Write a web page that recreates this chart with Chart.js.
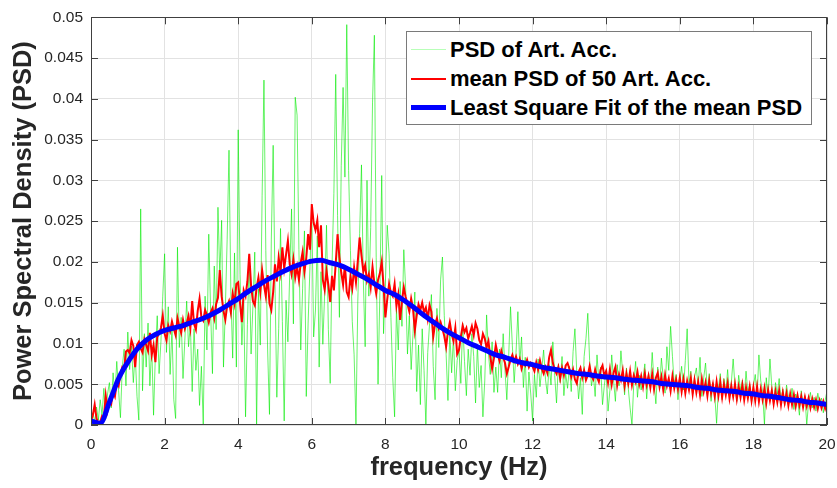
<!DOCTYPE html>
<html>
<head>
<meta charset="utf-8">
<script src="https://cdn.jsdelivr.net/npm/chart.js@4"></script>
<style>
  body { margin: 0; background: #fff; }
  #wrap { position: relative; width: 837px; height: 488px; }
  #legend {
    position: absolute; left: 406px; top: 31px; width: 406px; height: 94px;
    box-sizing: border-box; border: 1px solid #7a7a7a; background: #fff;
    padding-top: 3px;
    font: bold 22px "Liberation Sans", Arial, sans-serif; color: #000;
  }
  .row { display: flex; align-items: center; height: 29px; }
  .swatch { width: 35px; margin-left: 4px; margin-right: 4px; }
</style>
</head>
<body>
<div id="wrap">
  <canvas id="psdChart" width="837" height="488"></canvas>
  <div id="legend">
    <div class="row"><span class="swatch" style="border-top:1px solid #b8ffb8"></span>PSD of Art. Acc.</div>
    <div class="row"><span class="swatch" style="border-top:2px solid #ff0000"></span>mean PSD of 50 Art. Acc.</div>
    <div class="row"><span class="swatch" style="border-top:5px solid #0000ff"></span>Least Square Fit of the mean PSD</div>
  </div>
</div>
<script>
// sample spacing of the PSD estimates (Hz)
const step = 0.05;

// PSD of one artificial accelerogram, 0 .. 20 Hz
const psdSingle = [
  0.0008, 0.0015, 0.0004, 0.0022, 0.0006, 0.0031, 0.0012, 0.0045, 0.0008, 0.0038, 0.0052, 0.0021, 0.0064, 0.0035, 0.0078, 0.0042, 0.0009, 0.0071, 0.0093, 0.0048,
  0.0114, 0.0068, 0.0097, 0.0052, 0.0088, 0.0035, 0.0006, 0.0265, 0.0042, 0.0112, 0.0071, 0.0125, 0.0048, 0.0098, 0.0012, 0.0087, 0.0134, 0.0063, 0.0102, 0.0158,
  0.0210, 0.0089, 0.0145, 0.0062, 0.0118, 0.0031, 0.0008, 0.0218, 0.0095, 0.0132, 0.0057, 0.0104, 0.0152, 0.0096, 0.0124, 0.0041, 0.0118, 0.0067, 0.0093, 0.0024,
  0.0072, 0.0001, 0.0158, 0.0092, 0.0234, 0.0141, 0.0063, 0.0195, 0.0117, 0.0267, 0.0183, 0.0251, 0.0071, 0.0142, 0.0228, 0.0337, 0.0164, 0.0082, 0.0211, 0.0071,
  0.0362, 0.0185, 0.0098, 0.0154, 0.0010, 0.0123, 0.0205, 0.0087, 0.0146, 0.0212, 0.0000, 0.0167, 0.0098, 0.0281, 0.0423, 0.0214, 0.0092, 0.0013, 0.0228, 0.0343,
  0.0172, 0.0034, 0.0118, 0.0241, 0.0127, 0.0005, 0.0153, 0.0102, 0.0186, 0.0265, 0.0124, 0.0402, 0.0380, 0.0215, 0.0092, 0.0167, 0.0238, 0.0035, 0.0125, 0.0194,
  0.0263, 0.0108, 0.0141, 0.0232, 0.0071, 0.0188, 0.0099, 0.0162, 0.0245, 0.0117, 0.0051, 0.0196, 0.0284, 0.0430, 0.0257, 0.0132, 0.0318, 0.0414, 0.0304, 0.0491,
  0.0312, 0.0214, 0.0127, 0.0086, 0.0000, 0.0152, 0.0235, 0.0319, 0.0178, 0.0096, 0.0300, 0.0158, 0.0242, 0.0395, 0.0478, 0.0205, 0.0050, 0.0163, 0.0306, 0.0112,
  0.0174, 0.0245, 0.0210, 0.0132, 0.0058, 0.0010, 0.0143, 0.0092, 0.0176, 0.0121, 0.0215, 0.0168, 0.0087, 0.0134, 0.0068, 0.0112, 0.0163, 0.0041, 0.0098, 0.0025,
  0.0118, 0.0067, 0.0000, 0.0089, 0.0124, 0.0160, 0.0072, 0.0031, 0.0143, 0.0095, 0.0178, 0.0206, 0.0134, 0.0087, 0.0030, 0.0115, 0.0064, 0.0108, 0.0042, 0.0079,
  0.0092, 0.0051, 0.0125, 0.0078, 0.0036, 0.0093, 0.0061, 0.0112, 0.0084, 0.0027, 0.0098, 0.0046, 0.0073, 0.0010, 0.0054, 0.0135, 0.0088, 0.0062, 0.0102, 0.0040,
  0.0071, 0.0040, 0.0093, 0.0058, 0.0112, 0.0067, 0.0031, 0.0084, 0.0145, 0.0097, 0.0052, 0.0089, 0.0139, 0.0075, 0.0108, 0.0046, 0.0083, 0.0017, 0.0065, 0.0038,
  0.0005, 0.0062, 0.0034, 0.0081, 0.0047, 0.0069, 0.0092, 0.0056, 0.0038, 0.0074, 0.0049, 0.0102, 0.0061, 0.0027, 0.0075, 0.0052, 0.0084, 0.0036, 0.0063, 0.0045,
  0.0072, 0.0041, 0.0090, 0.0118, 0.0065, 0.0032, 0.0058, 0.0013, 0.0084, 0.0106, 0.0137, 0.0079, 0.0048, 0.0062, 0.0035, 0.0086, 0.0054, 0.0071, 0.0025, 0.0049,
  0.0068, 0.0017, 0.0042, 0.0086, 0.0055, 0.0029, 0.0074, 0.0048, 0.0091, 0.0063, 0.0037, 0.0070, 0.0045, 0.0021, 0.0000, 0.0052, 0.0078, 0.0034, 0.0061, 0.0043,
  0.0057, 0.0075, 0.0032, 0.0064, 0.0047, 0.0089, 0.0053, 0.0026, 0.0071, 0.0044, 0.0082, 0.0058, 0.0039, 0.0096, 0.0067, 0.0121, 0.0084, 0.0049, 0.0062, 0.0031,
  0.0055, 0.0072, 0.0043, 0.0079, 0.0118, 0.0051, 0.0066, 0.0038, 0.0059, 0.0070, 0.0046, 0.0083, 0.0035, 0.0058, 0.0076, 0.0041, 0.0063, 0.0029, 0.0052, 0.0037,
  0.0002, 0.0045, 0.0063, 0.0031, 0.0057, 0.0040, 0.0068, 0.0036, 0.0052, 0.0081, 0.0047, 0.0029, 0.0061, 0.0043, 0.0055, 0.0034, 0.0066, 0.0039, 0.0050, 0.0028,
  0.0048, 0.0062, 0.0035, 0.0086, 0.0054, 0.0041, 0.0000, 0.0058, 0.0033, 0.0081, 0.0047, 0.0026, 0.0052, 0.0038, 0.0057, 0.0030, 0.0044, 0.0024, 0.0049, 0.0035,
  0.0027, 0.0045, 0.0019, 0.0038, 0.0031, 0.0012, 0.0042, 0.0025, 0.0036, 0.0000, 0.0029, 0.0040, 0.0021, 0.0034, 0.0017, 0.0039, 0.0026, 0.0033, 0.0015, 0.0030, 0.0042
];

// mean PSD of 50 artificial accelerograms, same frequency grid
const psdMean = [
  0.0005, 0.0012, 0.0025, 0.0008, 0.0002, 0.0004, 0.0011, 0.0009, 0.0036, 0.0018, 0.0030, 0.0026, 0.0041, 0.0035, 0.0052, 0.0048, 0.0063, 0.0071, 0.0068, 0.0090,
  0.0092, 0.0088, 0.0104, 0.0097, 0.0071, 0.0098, 0.0102, 0.0094, 0.0089, 0.0105, 0.0098, 0.0091, 0.0113, 0.0086, 0.0098, 0.0077, 0.0108, 0.0112, 0.0119, 0.0134,
  0.0112, 0.0104, 0.0122, 0.0115, 0.0127, 0.0118, 0.0110, 0.0131, 0.0121, 0.0113, 0.0129, 0.0118, 0.0125, 0.0134, 0.0119, 0.0152, 0.0124, 0.0117, 0.0140, 0.0155,
  0.0132, 0.0128, 0.0141, 0.0135, 0.0126, 0.0138, 0.0143, 0.0131, 0.0148, 0.0156, 0.0190, 0.0158, 0.0140, 0.0129, 0.0146, 0.0152, 0.0138, 0.0161, 0.0149, 0.0173,
  0.0175, 0.0149, 0.0126, 0.0165, 0.0158, 0.0176, 0.0210, 0.0171, 0.0152, 0.0147, 0.0168, 0.0181, 0.0163, 0.0190, 0.0172, 0.0158, 0.0184, 0.0149, 0.0141, 0.0163,
  0.0197, 0.0176, 0.0205, 0.0188, 0.0218, 0.0192, 0.0209, 0.0226, 0.0197, 0.0185, 0.0203, 0.0181, 0.0194, 0.0178, 0.0199, 0.0212, 0.0188, 0.0205, 0.0234, 0.0215,
  0.0271, 0.0248, 0.0239, 0.0251, 0.0218, 0.0245, 0.0178, 0.0166, 0.0189, 0.0172, 0.0151, 0.0183, 0.0165, 0.0198, 0.0234, 0.0206, 0.0187, 0.0172, 0.0196, 0.0163,
  0.0157, 0.0182, 0.0168, 0.0193, 0.0175, 0.0201, 0.0230, 0.0208, 0.0188, 0.0196, 0.0177, 0.0185, 0.0169, 0.0194, 0.0174, 0.0161, 0.0178, 0.0186, 0.0200, 0.0171,
  0.0132, 0.0154, 0.0173, 0.0162, 0.0158, 0.0173, 0.0146, 0.0160, 0.0129, 0.0152, 0.0169, 0.0157, 0.0148, 0.0139, 0.0155, 0.0143, 0.0116, 0.0134, 0.0148, 0.0141,
  0.0150, 0.0138, 0.0144, 0.0130, 0.0147, 0.0139, 0.0108, 0.0124, 0.0131, 0.0119, 0.0126, 0.0118, 0.0109, 0.0096, 0.0115, 0.0126, 0.0112, 0.0103, 0.0119, 0.0087,
  0.0092, 0.0108, 0.0122, 0.0114, 0.0119, 0.0106, 0.0113, 0.0121, 0.0110, 0.0125, 0.0118, 0.0104, 0.0099, 0.0112, 0.0106, 0.0095, 0.0103, 0.0084, 0.0069, 0.0082,
  0.0098, 0.0087, 0.0079, 0.0091, 0.0083, 0.0076, 0.0063, 0.0071, 0.0080, 0.0086, 0.0078, 0.0084, 0.0075, 0.0081, 0.0069, 0.0077, 0.0073, 0.0080, 0.0071, 0.0076,
  0.0072, 0.0066, 0.0077, 0.0068, 0.0079, 0.0069, 0.0063, 0.0071, 0.0064, 0.0083, 0.0092, 0.0076, 0.0068, 0.0063, 0.0071, 0.0057, 0.0070, 0.0061, 0.0073, 0.0076,
  0.0069, 0.0059, 0.0068, 0.0056, 0.0051, 0.0065, 0.0070, 0.0058, 0.0067, 0.0055, 0.0061, 0.0072, 0.0060, 0.0056, 0.0068, 0.0059, 0.0053, 0.0068, 0.0073, 0.0060,
  0.0066, 0.0052, 0.0068, 0.0050, 0.0064, 0.0071, 0.0049, 0.0062, 0.0055, 0.0067, 0.0048, 0.0063, 0.0051, 0.0066, 0.0049, 0.0061, 0.0053, 0.0065, 0.0050, 0.0060,
  0.0047, 0.0063, 0.0049, 0.0060, 0.0046, 0.0062, 0.0044, 0.0058, 0.0064, 0.0047, 0.0059, 0.0043, 0.0061, 0.0048, 0.0057, 0.0042, 0.0060, 0.0045, 0.0056, 0.0044,
  0.0058, 0.0041, 0.0056, 0.0039, 0.0054, 0.0043, 0.0057, 0.0038, 0.0055, 0.0040, 0.0053, 0.0037, 0.0056, 0.0041, 0.0052, 0.0036, 0.0054, 0.0039, 0.0050, 0.0035,
  0.0053, 0.0036, 0.0052, 0.0034, 0.0050, 0.0037, 0.0051, 0.0033, 0.0048, 0.0035, 0.0050, 0.0032, 0.0047, 0.0034, 0.0049, 0.0031, 0.0046, 0.0033, 0.0047, 0.0030,
  0.0046, 0.0030, 0.0047, 0.0029, 0.0044, 0.0031, 0.0045, 0.0027, 0.0043, 0.0030, 0.0042, 0.0026, 0.0041, 0.0028, 0.0042, 0.0025, 0.0040, 0.0027, 0.0039, 0.0024,
  0.0038, 0.0025, 0.0037, 0.0023, 0.0036, 0.0024, 0.0035, 0.0022, 0.0034, 0.0023, 0.0033, 0.0021, 0.0032, 0.0022, 0.0031, 0.0020, 0.0030, 0.0021, 0.0029, 0.0020, 0.0027
];

// least square fit of the mean PSD, every 0.25 Hz
const fitFreq = [
  0, 0.25, 0.5, 0.75, 1, 1.25, 1.5, 1.75, 2, 2.25, 2.5, 2.75, 3, 3.25, 3.5, 3.75, 4, 4.25, 4.5, 4.75,
  5, 5.25, 5.5, 5.75, 6, 6.25, 6.5, 6.75, 7, 7.25, 7.5, 7.75, 8, 8.25, 8.5, 8.75, 9, 9.25, 9.5, 9.75,
  10, 10.25, 10.5, 10.75, 11, 11.25, 11.5, 11.75, 12, 12.25, 12.5, 12.75, 13, 13.25, 13.5, 13.75, 14, 14.25, 14.5, 14.75,
  15, 15.25, 15.5, 15.75, 16, 16.25, 16.5, 16.75, 17, 17.25, 17.5, 17.75, 18, 18.25, 18.5, 18.75, 19, 19.25, 19.5, 19.75, 20
];
const fitPsd = [
  0.0005, 0.0002, 0.0028, 0.0057, 0.0077, 0.0093, 0.0104, 0.0111, 0.0116, 0.0119, 0.0122, 0.0126, 0.0130, 0.0135, 0.0141, 0.0148, 0.0155, 0.0163, 0.0170, 0.0177,
  0.0183, 0.0189, 0.0194, 0.0198, 0.0201, 0.0202, 0.0199, 0.0196, 0.0191, 0.0185, 0.0179, 0.0172, 0.0165, 0.0160, 0.0153, 0.0145, 0.0136, 0.0128, 0.0120, 0.0113,
  0.0107, 0.0101, 0.0096, 0.0091, 0.0086, 0.0083, 0.0079, 0.0076, 0.0074, 0.0071, 0.0069, 0.0067, 0.0065, 0.0063, 0.0062, 0.0060, 0.0059, 0.0058, 0.0056, 0.0055,
  0.0054, 0.0053, 0.0051, 0.0050, 0.0049, 0.0048, 0.0046, 0.0045, 0.0043, 0.0042, 0.0041, 0.0039, 0.0038, 0.0036, 0.0035, 0.0033, 0.0031, 0.0030, 0.0028, 0.0027, 0.0025
];

const toPoints = (vals) => vals.map((v, i) => ({ x: i * step, y: v }));
const fitPoints = fitFreq.map((f, i) => ({ x: f, y: fitPsd[i] }));

const FONT = '"Liberation Sans", Arial, Helvetica, sans-serif';
const AXIS_COLOR = '#404040';
const TEXT_COLOR = '#262626';

// box around the plot with inward tick marks on all four sides (MATLAB look)
const boxPlugin = {
    id: 'box',
    afterDraw(chart) {
        const { ctx, chartArea: a, scales: { x, y } } = chart;
        const tl = 7;
        ctx.save();
        ctx.strokeStyle = AXIS_COLOR;
        ctx.lineWidth = 1;
        ctx.strokeRect(Math.round(a.left) + 0.5, Math.round(a.top) + 0.5,
            Math.round(a.right - a.left) - 1, Math.round(a.bottom - a.top) - 1);
        ctx.beginPath();
        x.ticks.forEach(t => {
            const px = Math.round(x.getPixelForValue(t.value)) + 0.5;
            ctx.moveTo(px, a.bottom); ctx.lineTo(px, a.bottom - tl);
            ctx.moveTo(px, a.top); ctx.lineTo(px, a.top + tl);
        });
        y.ticks.forEach(t => {
            const py = Math.round(y.getPixelForValue(t.value)) + 0.5;
            ctx.moveTo(a.left, py); ctx.lineTo(a.left + tl, py);
            ctx.moveTo(a.right, py); ctx.lineTo(a.right - tl, py);
        });
        ctx.stroke();
        ctx.restore();
    }
};

const ctx = document.getElementById('psdChart').getContext('2d');
const psdChart = new Chart(ctx, {
    type: 'line',
    data: {
        datasets: [
            {
                label: 'PSD of Art. Acc.',
                data: toPoints(psdSingle),
                borderColor: 'rgb(0, 235, 0)',
                borderWidth: 0.6,
                pointRadius: 0,
                order: 3
            },
            {
                label: 'mean PSD of 50 Art. Acc.',
                data: toPoints(psdMean),
                borderColor: '#ff0000',
                borderWidth: 2,
                pointRadius: 0,
                order: 2
            },
            {
                label: 'Least Square Fit of the mean PSD',
                data: fitPoints,
                borderColor: '#0000ff',
                borderWidth: 5,
                pointRadius: 0,
                cubicInterpolationMode: 'monotone',
                order: 1
            }
        ]
    },
    options: {
        responsive: false,
        animation: false,
        layout: { padding: { left: 0, top: 15, right: 10, bottom: 0 } },
        plugins: {
            legend: { display: false },
            tooltip: { enabled: false }
        },
        scales: {
            x: {
                type: 'linear',
                min: 0,
                max: 20,
                afterFit: (s) => { s.height = 63; s.paddingLeft = 0; s.paddingRight = 0; },
                ticks: {
                    stepSize: 2,
                    padding: 10,
                    color: TEXT_COLOR,
                    font: { family: FONT, size: 15.5 },
                    callback: (v) => String(v)
                },
                grid: { color: '#e2e2e2', drawTicks: false },
                border: { display: false },
                title: {
                    display: true,
                    text: 'frequency (Hz)',
                    color: TEXT_COLOR,
                    font: { family: FONT, size: 25.5, weight: 'bold' },
                    padding: { top: 0, bottom: 5 }
                }
            },
            y: {
                min: 0,
                max: 0.05,
                afterFit: (s) => { s.width = 91; },
                ticks: {
                    stepSize: 0.005,
                    padding: 8,
                    color: TEXT_COLOR,
                    font: { family: FONT, size: 15.5 },
                    callback: (v) => String(+v.toFixed(4))
                },
                grid: { color: '#e2e2e2', drawTicks: false },
                border: { display: false },
                title: {
                    display: true,
                    text: 'Power Spectral Density (PSD)',
                    color: TEXT_COLOR,
                    font: { family: FONT, size: 25.5, weight: 'bold' },
                    padding: { top: 9, bottom: 0 }
                }
            }
        }
    },
    plugins: [boxPlugin]
});
</script>
</body>
</html>
